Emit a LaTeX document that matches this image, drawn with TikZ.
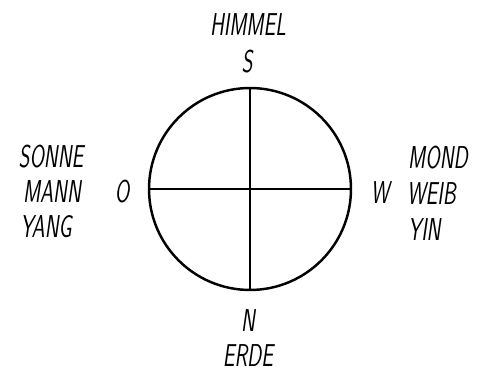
\documentclass[tikz,border=0pt]{standalone}
\usepackage{tikz}
\usetikzlibrary{positioning}

\tikzset{
  lbl/.style={font=\sffamily\itshape\fontsize{18}{20}\selectfont, inner sep=0pt, xscale=0.66, transform shape},
  ring/.style={draw, circle, line width=1.4pt, inner sep=0pt, minimum size=4.04cm}
}

\begin{document}
\begin{tikzpicture}[x=0.02cm, y=-0.02cm]
\useasboundingbox (0,0) rectangle (478,371);
% Kreis mit Kreuz
\node[ring] (ring) at (250,189) {};
\draw[line width=1.2pt] (ring.north) -- (ring.south);
\draw[line width=1.2pt] (ring.west) -- (ring.east);

% Himmelsrichtungen
\node[lbl] (s) at (247,62) {S};
\node[lbl] (n) at (248,321) {N};
\node[lbl] (o) at (122,192) {O};
\node[lbl] (w) at (380,193) {W};

% Beschriftungen
\node[lbl] (himmel) at (248,25) {HIMMEL};
\node[lbl] (erde) at (248,356) {ERDE};
\node[lbl] (sonne) at (51,157) {SONNE};
\node[lbl] (mann) at (52,192) {MANN};
\node[lbl] (yang) at (46,227) {YANG};
\node[lbl, anchor=west] (mond) at (408,158) {MOND};
\node[lbl, anchor=west] (weib) at (407,194) {WEIB};
\node[lbl, anchor=west] (yin) at (408,230) {YIN};
\end{tikzpicture}
\end{document}
